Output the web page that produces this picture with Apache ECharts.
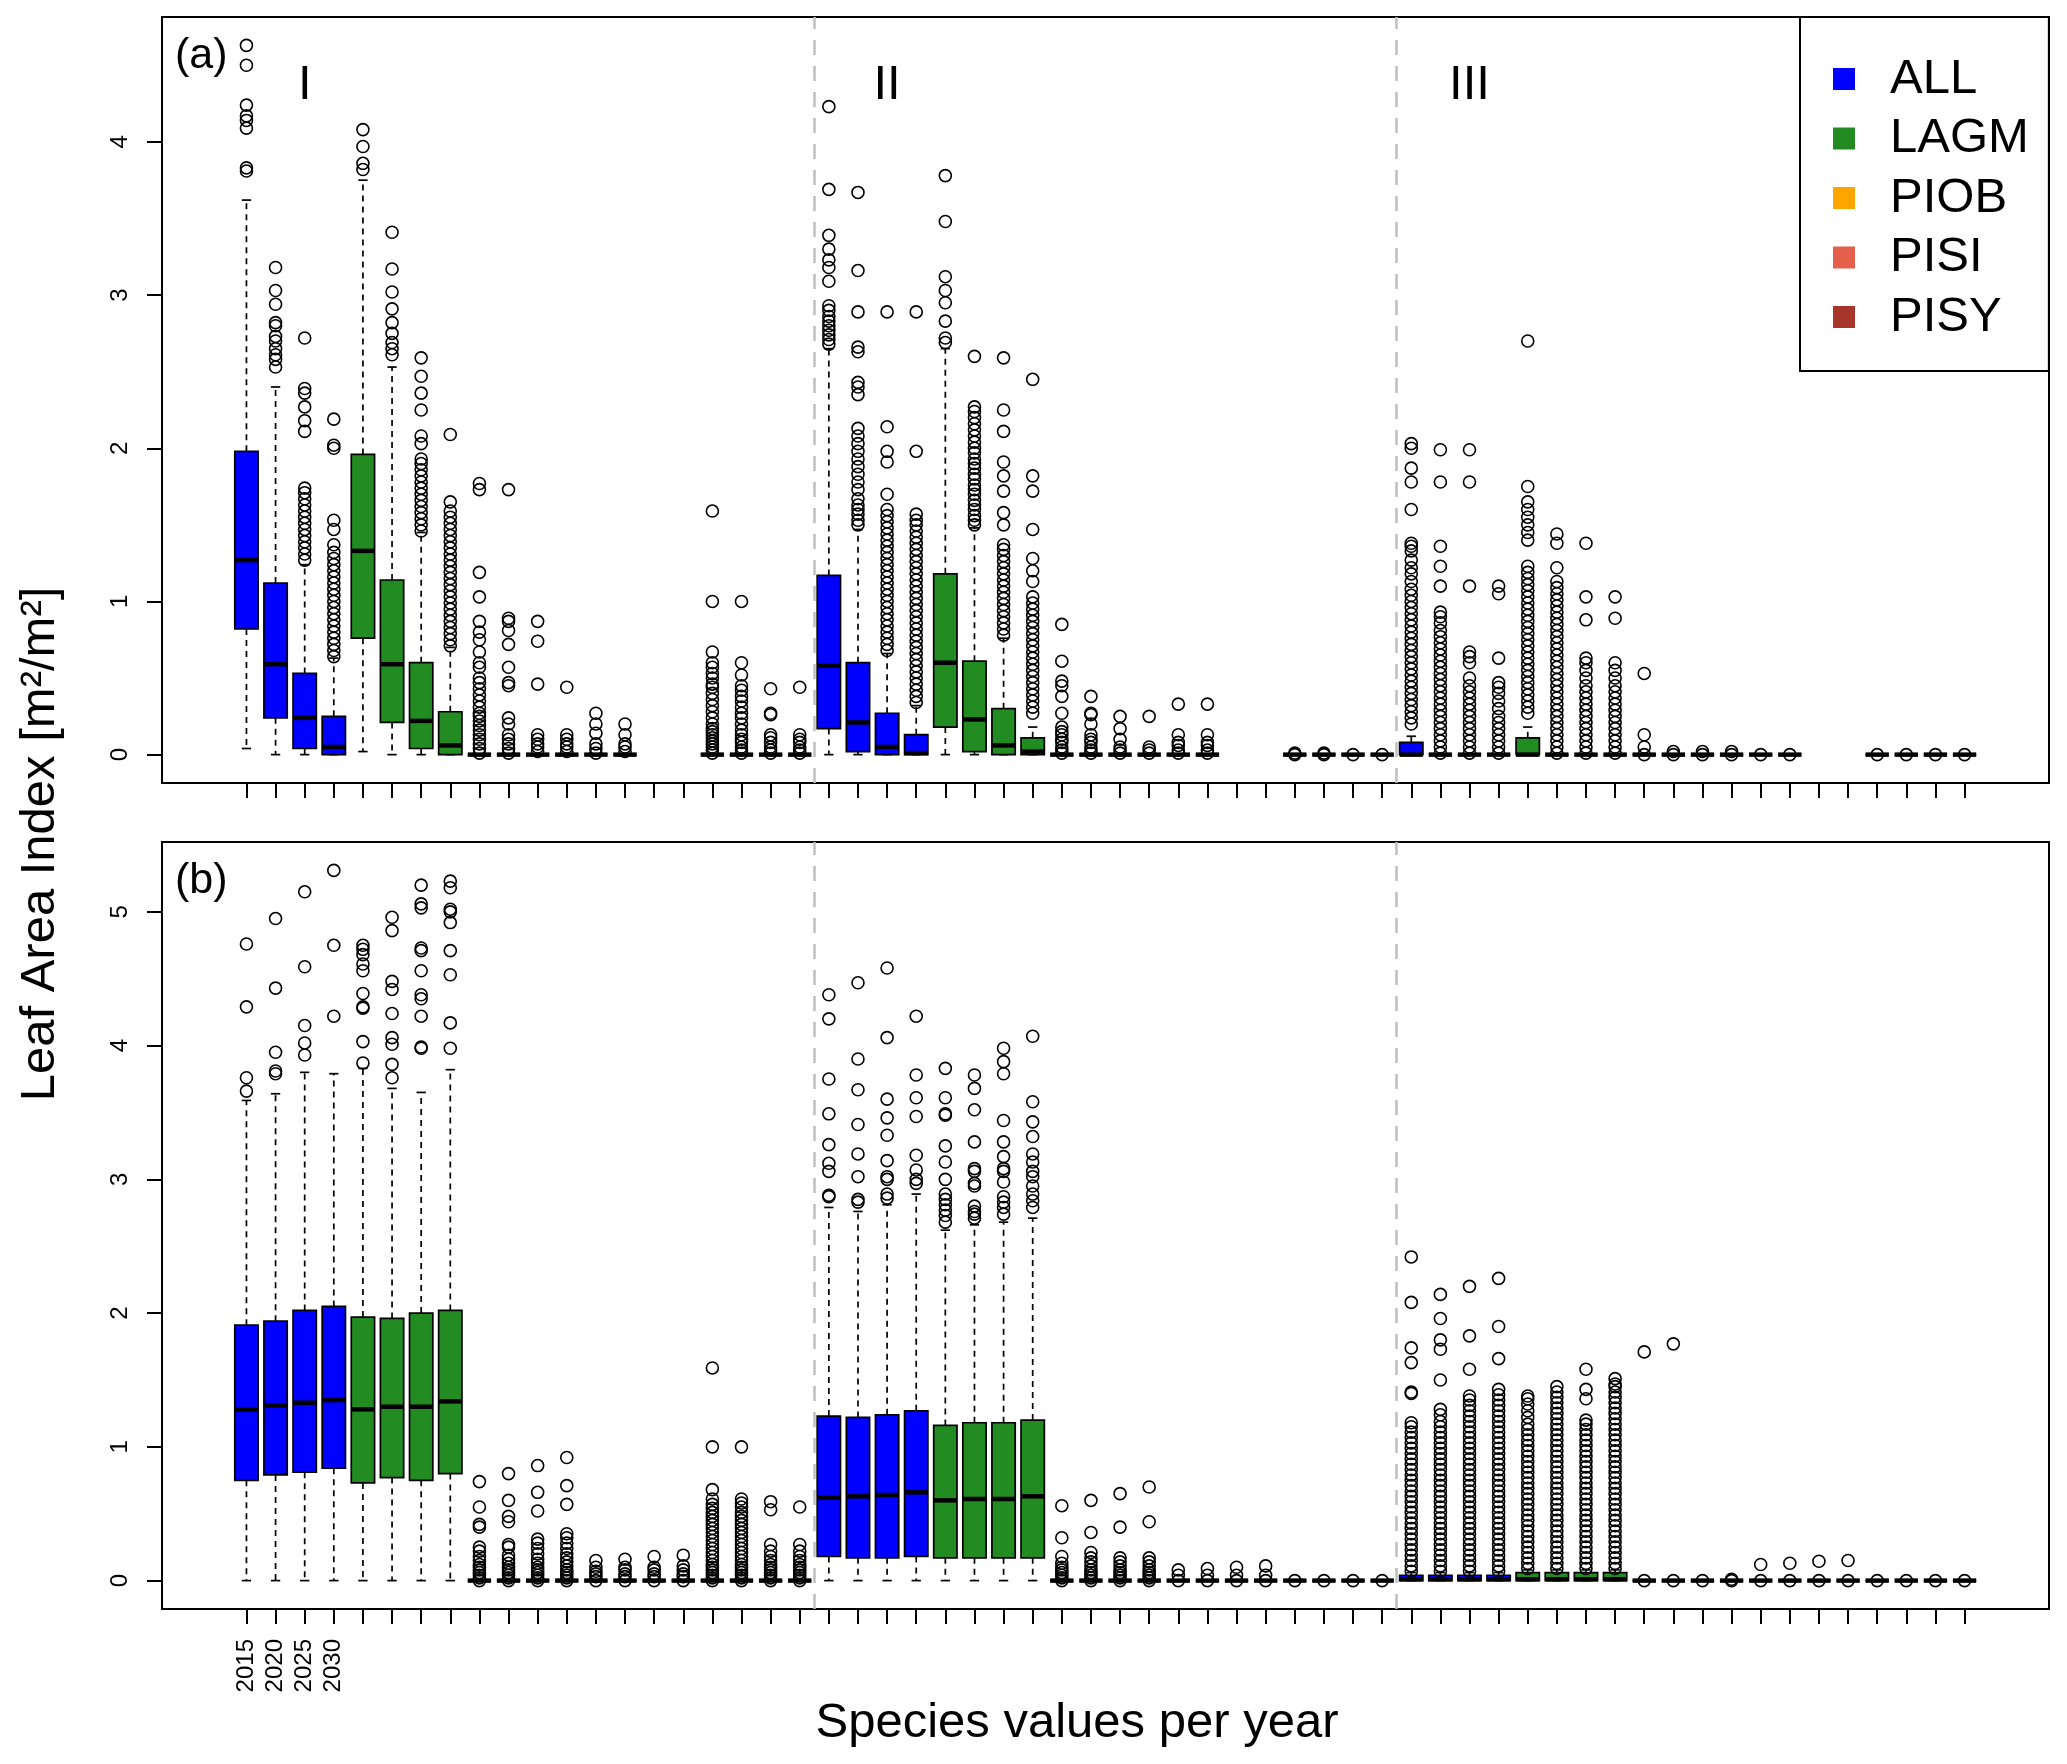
<!DOCTYPE html>
<html><head><meta charset="utf-8">
<script src="https://cdn.jsdelivr.net/npm/echarts@6/dist/echarts.min.js"></script>
<style>html,body{margin:0;padding:0;background:#fff}#c{width:2067px;height:1764px}</style>
</head><body><div id="c"></div>
<script>
// ---------------- data ----------------
const species = ['ALL', 'LAGM', 'PIOB', 'PISI', 'PISY'];
const years = ['2015', '2020', '2025', '2030'];
const regions = ['I', 'II', 'III'];
const yTicksA = [0, 1, 2, 3, 4];
const yTicksB = [0, 1, 2, 3, 4, 5];
const Z = [0, 0, 0, 0, 0];

// five-number summaries [min, q1, median, q3, max] per position (1..60), panel (a)
const boxA = [
  [0.04,0.82,1.27,1.98,3.62],[0,0.24,0.59,1.12,2.4],[0,0.04,0.24,0.53,1.24],[0,0,0.05,0.25,0.63],
  [0.02,0.76,1.33,1.96,3.75],[0,0.21,0.59,1.14,2.53],[0,0.04,0.22,0.6,1.45],[0,0,0.06,0.28,0.7],
  Z,Z,Z,Z,
  Z,Z,null,null,
  Z,Z,Z,Z,
  [0,0.17,0.58,1.17,2.65],[0,0.02,0.21,0.6,1.47],[0,0,0.05,0.27,0.66],[0,0,0.01,0.13,0.32],
  [0,0.18,0.6,1.18,2.65],[0,0.02,0.23,0.61,1.48],[0,0,0.06,0.3,0.76],[0,0,0.02,0.11,0.18],
  Z,Z,Z,Z,
  Z,Z,null,null,
  Z,Z,Z,Z,
  [0,0,0,0.08,0.12],Z,Z,Z,
  [0,0,0,0.11,0.18],Z,Z,Z,
  Z,Z,Z,Z,
  Z,Z,null,null,
  Z,Z,Z,Z
];

const outA = [
  [3.81,3.83,4.09,4.14,4.17,4.24,4.5,4.63],
  [2.53,2.58,2.61,2.65,2.7,2.73,2.8,2.82,2.94,3.03,3.18],
  [1.27,1.31,1.35,1.39,1.43,1.47,1.51,1.55,1.59,1.63,1.67,1.71,1.74,2.11,2.18,2.27,2.36,2.39,2.72],
  [0.64,0.68,0.72,0.76,0.8,0.84,0.88,0.92,0.96,1.0,1.04,1.08,1.12,1.16,1.2,1.24,1.28,1.32,1.37,1.47,1.53,2.0,2.02,2.19],
  [3.82,3.86,3.97,4.08],
  [2.61,2.65,2.69,2.75,2.82,2.91,3.02,3.17,3.41],
  [1.46,1.5,1.54,1.58,1.62,1.66,1.7,1.74,1.78,1.82,1.86,1.9,1.93,2.03,2.08,2.25,2.36,2.47,2.59],
  [0.71,0.75,0.79,0.83,0.87,0.91,0.95,0.99,1.03,1.07,1.11,1.15,1.19,1.23,1.27,1.31,1.35,1.39,1.43,1.47,1.51,1.55,1.59,1.65,2.09],
  [0.01,0.04,0.07,0.1,0.13,0.16,0.19,0.22,0.25,0.27,0.31,0.35,0.39,0.43,0.47,0.5,0.57,0.6,0.67,0.75,0.8,0.87,1.03,1.19,1.73,1.77],
  [0.01,0.04,0.07,0.1,0.13,0.2,0.24,0.45,0.47,0.57,0.72,0.81,0.87,0.89,1.73],
  [0.02,0.05,0.07,0.1,0.13,0.46,0.74,0.87],
  [0.02,0.05,0.07,0.1,0.13,0.44],
  [0.01,0.04,0.07,0.14,0.2,0.27],
  [0.02,0.05,0.07,0.13,0.2],
  [],
  [],
  [0.01,0.03,0.05,0.07,0.09,0.11,0.13,0.15,0.17,0.2,0.24,0.28,0.32,0.36,0.4,0.44,0.46,0.5,0.53,0.57,0.6,0.67,1.0,1.59],
  [0.01,0.03,0.05,0.08,0.1,0.13,0.16,0.2,0.24,0.27,0.31,0.35,0.38,0.42,0.45,0.52,0.6,1.0],
  [0.01,0.03,0.05,0.08,0.11,0.13,0.26,0.27,0.43],
  [0.01,0.03,0.05,0.08,0.1,0.13,0.44],
  [2.68,2.71,2.74,2.77,2.8,2.83,2.86,2.9,2.93,3.09,3.18,3.23,3.3,3.39,3.69,4.23],
  [1.5,1.53,1.57,1.6,1.63,1.67,1.73,1.78,1.83,1.88,1.93,1.98,2.03,2.08,2.13,2.35,2.4,2.43,2.63,2.66,2.89,3.16,3.67],
  [0.68,0.72,0.76,0.8,0.84,0.88,0.92,0.96,1.0,1.04,1.08,1.12,1.16,1.2,1.24,1.28,1.32,1.36,1.4,1.44,1.48,1.52,1.56,1.6,1.7,1.91,1.98,2.14,2.89],
  [0.34,0.38,0.42,0.46,0.5,0.54,0.58,0.62,0.66,0.7,0.74,0.78,0.82,0.86,0.9,0.94,0.98,1.02,1.06,1.1,1.14,1.18,1.22,1.26,1.3,1.34,1.38,1.42,1.46,1.5,1.53,1.57,1.98,2.89],
  [2.69,2.72,2.83,2.95,3.03,3.12,3.48,3.78],
  [1.5,1.53,1.56,1.6,1.63,1.66,1.7,1.73,1.76,1.8,1.83,1.87,1.9,1.93,1.97,2.0,2.04,2.08,2.12,2.16,2.2,2.24,2.27,2.6],
  [0.78,0.82,0.86,0.9,0.94,0.98,1.02,1.06,1.1,1.14,1.18,1.22,1.26,1.3,1.34,1.37,1.5,1.58,1.72,1.82,1.91,2.11,2.25,2.59],
  [0.27,0.31,0.35,0.39,0.43,0.47,0.51,0.55,0.59,0.63,0.67,0.71,0.75,0.79,0.83,0.87,0.91,0.95,0.99,1.03,1.13,1.2,1.28,1.47,1.72,1.82,2.45],
  [0.01,0.03,0.05,0.08,0.1,0.13,0.15,0.18,0.27,0.38,0.45,0.48,0.61,0.85],
  [0.01,0.03,0.05,0.08,0.1,0.13,0.2,0.26,0.27,0.38],
  [0.01,0.03,0.05,0.1,0.17,0.25],
  [0.01,0.03,0.05,0.25],
  [0.01,0.03,0.06,0.08,0.13,0.33],
  [0.01,0.03,0.06,0.08,0.13,0.33],
  [],
  [],
  [0,0.01],[0,0.01],[0],[0],
  [0.2,0.24,0.28,0.32,0.36,0.4,0.44,0.48,0.52,0.56,0.6,0.64,0.68,0.72,0.76,0.8,0.84,0.88,0.92,0.96,1.0,1.04,1.08,1.13,1.18,1.22,1.27,1.33,1.36,1.38,1.6,1.78,1.87,2.0,2.03],
  [0.01,0.05,0.09,0.13,0.17,0.21,0.25,0.29,0.33,0.37,0.41,0.45,0.49,0.53,0.57,0.61,0.65,0.69,0.73,0.77,0.81,0.86,0.9,0.93,1.1,1.23,1.36,1.78,1.99],
  [0.01,0.05,0.09,0.13,0.17,0.21,0.25,0.29,0.33,0.37,0.41,0.45,0.5,0.6,0.64,0.67,1.1,1.78,1.99],
  [0.01,0.05,0.09,0.13,0.17,0.21,0.25,0.3,0.35,0.4,0.44,0.47,0.63,1.05,1.1],
  [0.27,0.31,0.35,0.39,0.43,0.47,0.51,0.55,0.59,0.63,0.67,0.71,0.75,0.79,0.83,0.87,0.91,0.95,0.99,1.03,1.07,1.11,1.15,1.19,1.23,1.4,1.45,1.5,1.55,1.6,1.65,1.75,2.7],
  [0.01,0.05,0.09,0.13,0.17,0.21,0.25,0.29,0.33,0.37,0.41,0.45,0.49,0.53,0.57,0.61,0.65,0.69,0.73,0.77,0.81,0.85,0.89,0.93,0.97,1.01,1.05,1.09,1.13,1.22,1.38,1.44],
  [0.01,0.05,0.09,0.13,0.17,0.21,0.25,0.29,0.33,0.37,0.41,0.45,0.5,0.55,0.6,0.63,0.88,1.03,1.38],
  [0.01,0.05,0.09,0.13,0.17,0.21,0.25,0.29,0.33,0.37,0.41,0.45,0.5,0.55,0.6,0.89,1.03],
  [0,0.05,0.13,0.53],
  [0,0.02],[0,0.02],[0,0.02],[0],[0],
  [],[],
  [0],[0],[0],[0]
];

// panel (b)
const boxB = [
  [0,0.75,1.28,1.91,3.59],[0,0.79,1.31,1.94,3.64],[0,0.81,1.33,2.02,3.8],[0,0.84,1.35,2.05,3.79],
  [0,0.73,1.28,1.97,3.83],[0,0.77,1.3,1.96,3.68],[0,0.75,1.3,2.0,3.65],[0,0.8,1.34,2.02,3.82],
  Z,Z,Z,Z,
  Z,Z,Z,Z,
  Z,Z,Z,Z,
  [0,0.18,0.62,1.23,2.79],[0,0.17,0.63,1.22,2.76],[0,0.17,0.64,1.24,2.81],[0,0.18,0.66,1.27,2.89],
  [0,0.17,0.6,1.16,2.62],[0,0.17,0.61,1.18,2.66],[0,0.17,0.61,1.18,2.68],[0,0.17,0.63,1.2,2.71],
  Z,Z,Z,Z,
  Z,Z,Z,Z,
  Z,Z,Z,Z,
  [0,0,0.01,0.04,0.06],[0,0,0.01,0.04,0.06],[0,0,0.01,0.04,0.06],[0,0,0.01,0.04,0.06],
  [0,0,0.01,0.06,0.08],[0,0,0.01,0.06,0.08],[0,0,0.01,0.06,0.08],[0,0,0.01,0.06,0.08],
  Z,Z,Z,Z,
  Z,Z,Z,Z,
  Z,Z,Z,Z
];

const outB = [
  [3.66,3.76,4.29,4.76],
  [3.79,3.81,3.95,4.43,4.95],
  [3.93,4.02,4.15,4.59,5.15],
  [4.22,4.75,5.31],
  [3.87,4.03,4.28,4.29,4.39,4.56,4.61,4.68,4.72,4.75],
  [3.76,3.86,4.01,4.06,4.24,4.42,4.48,4.86,4.96],
  [3.98,3.99,4.22,4.35,4.38,4.56,4.71,4.73,5.03,5.06,5.2],
  [3.98,4.17,4.53,4.71,4.92,5.0,5.02,5.18,5.23],
  [0,0.02,0.04,0.06,0.08,0.1,0.12,0.15,0.18,0.22,0.25,0.4,0.42,0.55,0.74],
  [0,0.02,0.04,0.06,0.08,0.1,0.13,0.16,0.19,0.25,0.27,0.44,0.48,0.6,0.8],
  [0,0.02,0.04,0.06,0.08,0.1,0.13,0.16,0.2,0.24,0.28,0.31,0.52,0.66,0.86],
  [0,0.02,0.04,0.06,0.08,0.11,0.14,0.17,0.2,0.24,0.28,0.32,0.35,0.57,0.71,0.92],
  [0,0.03,0.05,0.07,0.1,0.15],
  [0,0.03,0.05,0.08,0.1,0.16],
  [0,0.03,0.05,0.08,0.1,0.18],
  [0,0.03,0.05,0.08,0.11,0.19],
  [0,0.02,0.04,0.06,0.08,0.1,0.12,0.15,0.18,0.21,0.24,0.27,0.3,0.33,0.36,0.39,0.42,0.45,0.48,0.51,0.54,0.57,0.61,0.68,1.0,1.59],
  [0,0.02,0.04,0.06,0.08,0.1,0.12,0.15,0.18,0.21,0.24,0.27,0.3,0.33,0.36,0.39,0.42,0.45,0.48,0.51,0.55,0.58,0.61,1.0],
  [0,0.02,0.04,0.06,0.08,0.1,0.12,0.15,0.18,0.22,0.27,0.53,0.59],
  [0,0.02,0.04,0.06,0.08,0.1,0.12,0.15,0.18,0.22,0.27,0.55],
  [2.87,2.88,3.06,3.12,3.26,3.49,3.75,4.2,4.38],
  [2.83,2.85,3.02,3.19,3.41,3.67,3.9,4.47],
  [2.86,2.89,3.0,3.02,3.14,3.33,3.46,3.6,4.06,4.58],
  [2.97,3.0,3.07,3.18,3.47,3.61,3.78,4.22],
  [2.68,2.73,2.77,2.81,2.85,2.89,3.0,3.13,3.25,3.48,3.49,3.61,3.83],
  [2.71,2.74,2.76,2.8,2.95,2.97,3.06,3.08,3.28,3.52,3.68,3.78],
  [2.74,2.79,2.83,2.87,2.98,3.06,3.08,3.17,3.28,3.44,3.79,3.88,3.98],
  [2.79,2.84,2.89,2.95,3.02,3.06,3.13,3.19,3.32,3.43,3.58,4.07],
  [0,0.02,0.04,0.06,0.08,0.1,0.13,0.18,0.32,0.56],
  [0,0.02,0.04,0.06,0.08,0.11,0.14,0.17,0.21,0.36,0.6],
  [0,0.02,0.04,0.06,0.08,0.11,0.14,0.17,0.4,0.65],
  [0,0.02,0.04,0.06,0.08,0.11,0.14,0.17,0.44,0.7],
  [0,0.04,0.08],[0,0.04,0.09],[0,0.04,0.1],[0,0.04,0.11],
  [0],[0],[0],[0],
  [0.07,0.11,0.15,0.19,0.23,0.27,0.31,0.35,0.39,0.43,0.47,0.51,0.55,0.59,0.63,0.67,0.71,0.75,0.79,0.83,0.87,0.91,0.95,0.99,1.03,1.07,1.11,1.15,1.18,1.4,1.41,1.63,1.74,2.08,2.42],
  [0.07,0.11,0.15,0.19,0.23,0.27,0.31,0.35,0.39,0.43,0.47,0.51,0.55,0.59,0.63,0.67,0.71,0.75,0.79,0.83,0.87,0.91,0.95,0.99,1.03,1.07,1.11,1.15,1.19,1.24,1.28,1.5,1.73,1.8,1.96,2.14],
  [0.07,0.11,0.15,0.19,0.23,0.27,0.31,0.35,0.39,0.43,0.47,0.51,0.55,0.59,0.63,0.67,0.71,0.75,0.79,0.83,0.87,0.91,0.95,0.99,1.03,1.07,1.11,1.15,1.19,1.23,1.27,1.31,1.35,1.38,1.58,1.83,2.2],
  [0.07,0.11,0.15,0.19,0.23,0.27,0.31,0.35,0.39,0.43,0.47,0.51,0.55,0.59,0.63,0.67,0.71,0.75,0.79,0.83,0.87,0.91,0.95,0.99,1.03,1.07,1.11,1.15,1.19,1.23,1.27,1.31,1.35,1.39,1.43,1.66,1.9,2.26],
  [0.09,0.13,0.17,0.21,0.25,0.29,0.33,0.37,0.41,0.45,0.49,0.53,0.57,0.61,0.65,0.69,0.73,0.77,0.81,0.85,0.89,0.93,0.97,1.01,1.05,1.09,1.13,1.17,1.22,1.27,1.32,1.36,1.38],
  [0.09,0.13,0.17,0.21,0.25,0.29,0.33,0.37,0.41,0.45,0.49,0.53,0.57,0.61,0.65,0.69,0.73,0.77,0.81,0.85,0.89,0.93,0.97,1.01,1.05,1.09,1.13,1.17,1.21,1.25,1.29,1.33,1.37,1.41,1.45],
  [0.09,0.13,0.17,0.21,0.25,0.29,0.33,0.37,0.41,0.45,0.49,0.53,0.57,0.61,0.65,0.69,0.73,0.77,0.81,0.85,0.89,0.93,0.97,1.01,1.05,1.09,1.13,1.17,1.2,1.36,1.43,1.58],
  [0.09,0.13,0.17,0.21,0.25,0.29,0.33,0.37,0.41,0.45,0.49,0.53,0.57,0.61,0.65,0.69,0.73,0.77,0.81,0.85,0.89,0.93,0.97,1.01,1.05,1.09,1.13,1.17,1.21,1.25,1.29,1.33,1.37,1.41,1.45,1.47,1.51],
  [0,1.71],[0,1.77],[0],[0,0.01],
  [0,0.12],[0,0.13],[0,0.145],[0,0.15],
  [0],[0],[0],[0]
];

// ---------------- styles ----------------
const FONT = 'Liberation Sans, Arial, Helvetica, sans-serif';
const COLORS = { ALL: '#0000FF', LAGM: '#228B22', PIOB: '#FFA500', PISI: '#E5604C', PISY: '#A8352C' };
const NPOS = boxA.length;

function speciesOf(i) { return species[Math.floor((i % (species.length * years.length)) / years.length)]; }

function renderBox(params, api) {
  const x = api.value(0);
  const pMin = api.coord([x, api.value(1)]);
  const pQ1 = api.coord([x, api.value(2)]);
  const pMed = api.coord([x, api.value(3)]);
  const pQ3 = api.coord([x, api.value(4)]);
  const pMax = api.coord([x, api.value(5)]);
  const w = api.size([0.8, 0])[0];
  const sw = w * 0.4;
  const cx = pMin[0];
  const color = api.visual('color');
  const dash = { stroke: '#000', lineWidth: 1.7, lineDash: [6, 5], fill: null };
  const solid = { stroke: '#000', lineWidth: 1.7, fill: null };
  return { type: 'group', children: [
    { type: 'line', shape: { x1: cx, y1: pQ1[1], x2: cx, y2: pMin[1] }, style: dash },
    { type: 'line', shape: { x1: cx, y1: pQ3[1], x2: cx, y2: pMax[1] }, style: dash },
    { type: 'line', shape: { x1: cx - sw / 2, y1: pMin[1], x2: cx + sw / 2, y2: pMin[1] }, style: solid },
    { type: 'line', shape: { x1: cx - sw / 2, y1: pMax[1], x2: cx + sw / 2, y2: pMax[1] }, style: solid },
    { type: 'rect', shape: { x: cx - w / 2, y: pQ3[1], width: w, height: pQ1[1] - pQ3[1] },
      style: { fill: color, stroke: '#000', lineWidth: 1.7 } },
    { type: 'line', shape: { x1: cx - w / 2, y1: pMed[1], x2: cx + w / 2, y2: pMed[1] },
      style: { stroke: '#000', lineWidth: 4.5, fill: null } }
  ]};
}

function boxSeries(boxes, gi) {
  return species.map(sp => ({
    type: 'custom', name: sp, xAxisIndex: gi, yAxisIndex: gi,
    itemStyle: { color: COLORS[sp] },
    renderItem: renderBox, silent: true, z: 2,
    encode: { x: 0, y: [1, 2, 3, 4, 5] },
    data: boxes.map((b, i) => (b && speciesOf(i) === sp) ? [i + 1].concat(b) : null).filter(Boolean)
  }));
}

function outlierSeries(outs, gi) {
  const data = [];
  outs.forEach((arr, i) => arr.forEach(v => data.push([i + 1, v])));
  const groupLen = species.length * years.length;
  const seps = regions.slice(1).map((r, k) => ({ xAxis: (k + 1) * groupLen + 0.5 }));
  return {
    type: 'scatter', xAxisIndex: gi, yAxisIndex: gi, data, silent: true, z: 3,
    symbol: 'circle', symbolSize: 12,
    itemStyle: { color: 'rgba(0,0,0,0)', borderColor: '#000', borderWidth: 1.6, opacity: 1 },
    markLine: { silent: true, symbol: ['none', 'none'], label: { show: false }, animation: false,
      lineStyle: { color: '#BEBEBE', width: 2.5, type: [15, 11] }, data: seps }
  };
}

function dataMax(boxes, outs) {
  let m = 0;
  boxes.forEach(b => b && b.forEach(v => { if (v > m) m = v; }));
  outs.forEach(a => a.forEach(v => { if (v > m) m = v; }));
  return m;
}
const maxA = dataMax(boxA, outA), maxB = dataMax(boxB, outB);
const xMin = 0.5 - 0.04 * NPOS, xMax = NPOS + 0.5 + 0.04 * NPOS;
const xTicks = boxA.map((b, i) => i + 1);

function xAxisDef(gi, showLabels) {
  return {
    gridIndex: gi, type: 'value', min: xMin, max: xMax, position: 'bottom',
    axisLine: { show: false, onZero: false }, splitLine: { show: false },
    axisTick: { show: true, inside: false, length: 15, customValues: xTicks, lineStyle: { color: '#000', width: 2 } },
    axisLabel: showLabels ? {
      show: true, customValues: years.map((y, i) => i + 1), formatter: v => years[Math.round(v) - 1],
      rotate: 90, fontSize: 24, margin: 30, color: '#000', fontFamily: FONT
    } : { show: false }
  };
}
function yAxisDef(gi, mx, ticks) {
  return {
    gridIndex: gi, type: 'value', min: -0.04 * mx, max: mx * 1.04, position: 'left',
    axisLine: { show: false, onZero: false }, splitLine: { show: false },
    axisTick: { show: true, inside: false, length: 15, customValues: ticks, lineStyle: { color: '#000', width: 2 } },
    axisLabel: { show: true, customValues: ticks, formatter: v => String(v), rotate: 90, fontSize: 24, margin: 30, color: '#000', fontFamily: FONT }
  };
}

const chart = echarts.init(document.getElementById('c'), null, { renderer: 'canvas' });
const option = {
  animation: false,
  backgroundColor: '#fff',
  grid: [
    { left: 162, top: 17, width: 1887, height: 766, show: true, borderColor: '#000', borderWidth: 2, backgroundColor: 'transparent' },
    { left: 162, top: 842, width: 1887, height: 767, show: true, borderColor: '#000', borderWidth: 2, backgroundColor: 'transparent' }
  ],
  xAxis: [xAxisDef(0, false), xAxisDef(1, true)],
  yAxis: [yAxisDef(0, maxA, yTicksA), yAxisDef(1, maxB, yTicksB)],
  legend: {
    data: species, orient: 'vertical', left: 1800, top: 17,
    padding: [37, 20, 29, 33], itemGap: 9.5, itemWidth: 22, itemHeight: 22, icon: 'rect',
    itemStyle: { borderWidth: 0 },
    textStyle: { fontSize: 49, lineHeight: 50, fontFamily: FONT, color: '#000', padding: [0, 0, 0, 30] },
    backgroundColor: '#fff', borderColor: '#000', borderWidth: 2, borderRadius: 0,
    selectedMode: false, z: 10
  },
  series: [].concat(boxSeries(boxA, 0), boxSeries(boxB, 1), [outlierSeries(outA, 0), outlierSeries(outB, 1)])
};
chart.setOption(option);

// text annotations, placed via the axes' scales
const groupLen = species.length * years.length;
const romanEls = regions.map((r, k) => {
  const p = chart.convertToPixel({ gridIndex: 0 }, [k * groupLen + 3, 4.37]);
  return { type: 'text', x: p[0], y: p[1], z: 20,
    style: { text: r, fontSize: 49, fontFamily: FONT, fill: '#000', align: 'center', verticalAlign: 'middle', textAlign: 'center', textVerticalAlign: 'middle' } };
});
function txt(t, x, y, size, extra) {
  return Object.assign({ type: 'text', x, y, z: 20,
    style: { text: t, fontSize: size, fontFamily: FONT, fill: '#000', align: 'left', verticalAlign: 'middle', textAlign: 'left', textVerticalAlign: 'middle' } }, extra || {});
}
const yTitle = txt('Leaf Area Index [m²/m²]', 40, 844, 49, { rotation: Math.PI / 2 });
yTitle.style.align = 'center'; yTitle.style.textAlign = 'center';
const xTitle = txt('Species values per year', 1077, 1723, 49);
xTitle.style.align = 'center'; xTitle.style.textAlign = 'center';
chart.setOption({ graphic: [
  txt('(a)', 175, 56, 43), txt('(b)', 175, 881, 43), yTitle, xTitle
].concat(romanEls) });
</script>
</body></html>
